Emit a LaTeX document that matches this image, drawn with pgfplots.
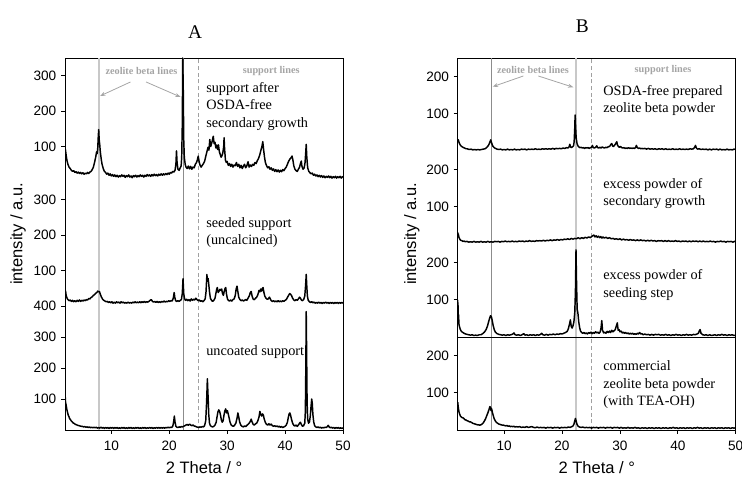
\documentclass[border=0pt]{standalone}
\usepackage{pgfplots}
\pgfplotsset{compat=1.18}
\usepackage{fontspec}
\setmainfont{Liberation Sans}
\newfontfamily\serif{Liberation Serif}
\usetikzlibrary{arrows.meta}
\definecolor{lightline}{RGB}{200,200,200}
\definecolor{darkline}{RGB}{140,140,140}
\definecolor{dashline}{RGB}{160,160,160}
\definecolor{annot}{RGB}{165,165,165}
\pgfplotsset{
 outer/.style={scale only axis, width=208.5pt, height=279pt, xmin=2, xmax=50, ymin=0, ymax=372,
   anchor=south west, clip=false, xtick={10,20,30,40,50}, tick align=outside, tick pos=left,
   major tick length=3pt, tick style={black, line width=0.5pt}, axis line style={black, line width=0.6pt},
   ticklabel style={font=\fontsize{10.2}{12}\selectfont}, /pgf/number format/assume math mode=true,
   xticklabel style={yshift=-1.5pt}},
 inner/.style={scale only axis, width=208.5pt, xmin=2, xmax=50, anchor=south west, hide axis},
}
\tikzset{
 trace/.style={black, line width=1.1pt, line join=round},
 ann/.style={font=\serif\fontsize{10.7}{12}\selectfont, anchor=base west, inner sep=0pt},
 lbl/.style={font=\serif\bfseries\fontsize{7.7}{9}\selectfont, text=annot, inner sep=0pt},
 axlbl/.style={font=\fontsize{12.4}{14}\selectfont},
}
\begin{document}
\begin{tikzpicture}
\path[use as bounding box] (0,0) rectangle (556.5pt,357.75pt);
% ---------------- Panel A ----------------
\begin{axis}[outer, at={(48.75pt,35.25pt)},
  ytick={31,62,93,124,159.43,194.86,230.29,283.43,318.86,354.29},
  yticklabels={100,200,300,400,100,200,300,100,200,300}]
\addplot[lightline, line width=1.5pt] coordinates {(7.8,0)(7.8,372)};
\addplot[darkline, line width=0.7pt] coordinates {(22.4,0)(22.4,372)};
\addplot[dashline, line width=0.6pt, dash pattern=on 3pt off 2pt] coordinates {(25,0)(25,372)};
\node[lbl] at (axis cs:15.2,359) {zeolite beta lines};
\node[lbl] at (axis cs:37.6,359) {support lines};
\draw[annot, line width=0.6pt, -{Stealth[length=4pt,width=3pt]}] (axis cs:13.3,348) -- (axis cs:8.05,334);
\draw[annot, line width=0.6pt, -{Stealth[length=4pt,width=3pt]}] (axis cs:16.0,348) -- (axis cs:21.95,333);
\node[ann] at (axis cs:26.35,337.5) {support after};
\node[ann] at (axis cs:26.35,320) {OSDA-free};
\node[ann] at (axis cs:26.35,302.5) {secondary growth};
\node[ann] at (axis cs:26.35,202.5) {seeded support};
\node[ann] at (axis cs:26.35,185) {(uncalcined)};
\node[ann] at (axis cs:26.35,74.5) {uncoated support};
\node[axlbl] at (axis cs:26,-38) {2 Theta / °};
\node[axlbl, rotate=90] at (axis cs:-6.1,196) {intensity / a.u.};
\node[font=\serif\fontsize{14.5}{16}\selectfont] at (axis cs:24.45,398) {A};
\end{axis}
% A top
\begin{axis}[inner, at={(48.75pt,221.25pt)}, height=93pt, ymin=0, ymax=350]
\addplot[trace] coordinates {(2.0,97)(2.1,88)(2.2,75)(2.35,60)(2.5,50)(2.7,42)(2.9,38)(3.1,33)(3.3,30)(3.5,32)(3.7,27)(3.9,29)(4.1,25)(4.3,28)(4.5,24)(4.7,27)(4.9,23)(5.1,26)(5.3,22)(5.5,25)(5.7,23)(5.9,27)(6.1,24)(6.3,28)(6.5,30)(6.7,35)(6.9,42)(7.1,55)(7.3,70)(7.45,85)(7.55,80)(7.65,95)(7.75,130)(7.82,148)(7.9,120)(8.0,105)(8.1,85)(8.25,65)(8.4,50)(8.6,38)(8.8,30)(9.0,27)(9.2,22)(9.4,25)(9.6,19)(9.8,23)(10.0,17)(10.2,21)(10.4,16)(10.6,20)(10.8,15)(11.0,19)(11.2,14)(11.4,18)(11.6,15)(11.8,20)(12.0,16)(12.2,19)(12.4,13)(12.6,18)(12.8,15)(13.0,20)(13.2,14)(13.4,17)(13.6,12)(13.8,18)(14.0,15)(14.2,19)(14.4,14)(14.6,18)(14.8,15)(15.0,20)(15.2,16)(15.4,19)(15.6,14)(15.8,19)(16.0,16)(16.2,21)(16.4,17)(16.6,20)(16.8,16)(17.0,21)(17.2,17)(17.4,22)(17.6,18)(17.8,21)(18.0,17)(18.2,22)(18.4,19)(18.6,23)(18.8,19)(19.0,23)(19.2,20)(19.4,24)(19.6,21)(19.8,25)(20.0,22)(20.2,27)(20.4,25)(20.6,30)(20.8,28)(21.0,33)(21.15,50)(21.25,88)(21.35,55)(21.5,36)(21.7,33)(21.9,40)(22.05,45)(22.15,70)(22.25,160)(22.33,350)(22.42,260)(22.5,120)(22.6,70)(22.75,50)(22.9,42)(23.1,38)(23.3,45)(23.5,37)(23.7,44)(23.9,36)(24.1,42)(24.3,40)(24.5,50)(24.7,55)(24.85,62)(25.0,73)(25.15,58)(25.3,48)(25.5,42)(25.7,47)(25.9,52)(26.1,58)(26.3,72)(26.5,85)(26.7,98)(26.85,90)(27.0,120)(27.15,100)(27.3,108)(27.45,118)(27.6,129)(27.75,108)(27.9,112)(28.05,96)(28.2,104)(28.35,92)(28.5,105)(28.65,85)(28.8,78)(28.95,70)(29.1,74)(29.25,82)(29.4,100)(29.47,125)(29.55,95)(29.7,62)(29.85,55)(30.0,58)(30.2,47)(30.4,52)(30.6,44)(30.8,50)(31.0,42)(31.2,48)(31.4,46)(31.6,55)(31.8,44)(32.0,50)(32.2,40)(32.4,47)(32.6,38)(32.8,45)(33.0,50)(33.2,40)(33.4,46)(33.6,57)(33.8,42)(34.0,48)(34.2,44)(34.4,50)(34.6,47)(34.8,55)(35.0,52)(35.2,60)(35.4,66)(35.6,75)(35.8,88)(36.0,100)(36.15,114)(36.3,90)(36.45,70)(36.6,55)(36.8,46)(37.0,40)(37.2,43)(37.4,36)(37.6,40)(37.8,33)(38.0,37)(38.2,30)(38.4,35)(38.6,29)(38.8,34)(39.0,28)(39.2,33)(39.4,29)(39.6,35)(39.8,32)(40.0,38)(40.2,42)(40.4,50)(40.6,58)(40.8,64)(41.0,68)(41.2,73)(41.35,62)(41.5,46)(41.7,36)(41.9,32)(42.1,30)(42.3,36)(42.5,42)(42.65,52)(42.8,59)(42.9,45)(43.1,36)(43.3,40)(43.45,55)(43.55,80)(43.65,106)(43.75,70)(43.9,40)(44.1,30)(44.3,26)(44.5,23)(44.7,25)(44.9,19)(45.1,22)(45.3,17)(45.5,20)(45.7,15)(45.9,19)(46.1,14)(46.3,18)(46.5,13)(46.7,17)(46.9,12)(47.1,16)(47.3,13)(47.5,17)(47.7,12)(47.9,16)(48.1,11)(48.3,15)(48.5,12)(48.7,16)(48.9,11)(49.1,15)(49.3,12)(49.5,16)(49.7,11)(49.9,15)(50.0,13)};
\end{axis}
% A middle
\begin{axis}[inner, at={(48.75pt,128.25pt)}, height=93pt, ymin=0, ymax=350]
\addplot[trace] coordinates {(2.0,46)(2.05,38)(2.1,42)(2.2,30)(2.35,22)(2.5,18)(2.7,15)(2.9,17)(3.1,13)(3.3,16)(3.5,12)(3.7,15)(3.9,12)(4.1,16)(4.3,13)(4.5,17)(4.7,13)(4.9,16)(5.1,14)(5.3,17)(5.5,15)(5.7,18)(5.9,17)(6.1,21)(6.3,20)(6.5,24)(6.7,26)(6.9,30)(7.1,32)(7.3,36)(7.5,38)(7.65,42)(7.8,40)(7.95,41)(8.1,33)(8.3,25)(8.5,19)(8.7,16)(8.9,14)(9.1,12)(9.3,13)(9.5,10)(9.7,12)(9.9,9)(10.1,12)(10.3,8)(10.5,11)(10.7,8)(10.9,12)(11.1,9)(11.3,11)(11.5,8)(11.7,12)(11.9,9)(12.1,11)(12.3,8)(12.5,10)(12.7,8)(12.9,11)(13.1,8)(13.3,10)(13.5,8)(13.7,11)(13.9,9)(14.1,12)(14.3,9)(14.5,11)(14.7,9)(14.9,12)(15.1,9)(15.3,12)(15.5,10)(15.7,13)(15.9,10)(16.1,12)(16.3,11)(16.5,13)(16.7,16)(16.9,18)(17.1,13)(17.3,11)(17.5,13)(17.7,10)(17.9,13)(18.1,10)(18.3,12)(18.5,10)(18.7,13)(18.9,11)(19.1,14)(19.3,11)(19.5,13)(19.7,12)(19.9,15)(20.1,13)(20.3,15)(20.5,14)(20.7,22)(20.85,38)(20.95,25)(21.1,15)(21.3,13)(21.5,15)(21.7,13)(21.9,16)(22.1,18)(22.25,35)(22.38,77)(22.5,35)(22.65,20)(22.8,16)(23.0,19)(23.2,15)(23.4,18)(23.6,14)(23.8,20)(24.0,16)(24.2,19)(24.4,17)(24.6,22)(24.8,18)(25.0,15)(25.2,17)(25.4,13)(25.6,15)(25.8,12)(26.0,15)(26.2,20)(26.35,40)(26.5,89)(26.6,70)(26.7,78)(26.8,65)(26.95,40)(27.1,22)(27.3,16)(27.5,13)(27.7,16)(27.9,22)(28.05,35)(28.2,48)(28.3,52)(28.45,38)(28.6,42)(28.75,47)(28.9,44)(29.05,48)(29.2,35)(29.35,30)(29.5,42)(29.65,50)(29.75,52)(29.9,32)(30.05,20)(30.2,16)(30.4,14)(30.6,17)(30.8,14)(31.0,18)(31.2,20)(31.4,30)(31.55,48)(31.7,56)(31.85,40)(32.0,25)(32.2,18)(32.4,15)(32.6,17)(32.8,14)(33.0,16)(33.2,18)(33.4,16)(33.6,22)(33.8,28)(34.0,38)(34.15,41)(34.3,28)(34.5,19)(34.7,18)(34.9,22)(35.1,25)(35.3,32)(35.5,44)(35.65,40)(35.8,48)(35.95,42)(36.1,50)(36.2,52)(36.35,38)(36.5,28)(36.7,22)(36.9,19)(37.1,20)(37.3,25)(37.45,20)(37.6,15)(37.8,13)(38.0,15)(38.2,12)(38.4,14)(38.6,12)(38.8,15)(39.0,12)(39.2,14)(39.4,12)(39.6,15)(39.8,13)(40.0,16)(40.2,18)(40.4,24)(40.6,30)(40.8,35)(40.95,33)(41.1,30)(41.3,22)(41.5,17)(41.7,15)(41.9,18)(42.1,16)(42.3,20)(42.5,25)(42.65,22)(42.8,17)(43.0,15)(43.2,18)(43.4,28)(43.55,60)(43.65,89)(43.75,55)(43.85,28)(44.0,16)(44.2,12)(44.4,10)(44.6,12)(44.8,9)(45.0,11)(45.2,8)(45.4,10)(45.6,8)(45.8,11)(46.0,8)(46.2,10)(46.4,7)(46.6,10)(46.8,8)(47.0,11)(47.2,8)(47.4,10)(47.6,7)(47.8,10)(48.0,8)(48.2,10)(48.4,7)(48.6,10)(48.8,8)(49.0,10)(49.2,7)(49.4,10)(49.6,8)(49.8,10)(50.0,8)};
\end{axis}
% A bottom
\begin{axis}[inner, at={(48.75pt,35.25pt)}, height=93pt, ymin=0, ymax=400]
\addplot[trace] coordinates {(2.0,97)(2.05,105)(2.1,88)(2.2,80)(2.3,68)(2.4,60)(2.5,52)(2.6,46)(2.7,42)(2.8,37)(2.95,33)(3.1,29)(3.25,26)(3.4,23)(3.6,21)(3.8,18)(4.0,17)(4.2,15)(4.4,14)(4.6,13)(4.8,12)(5.0,12)(5.2,10)(5.4,11)(5.6,9)(5.8,10)(6.0,8)(6.2,10)(6.4,7)(6.6,9)(6.8,7)(7.0,9)(7.2,7)(7.4,9)(7.6,6)(7.8,8)(8.0,6)(8.2,9)(8.4,6)(8.6,8)(8.8,5)(9.0,8)(9.2,6)(9.4,8)(9.6,5)(9.8,8)(10.0,6)(10.2,8)(10.4,5)(10.6,8)(10.8,6)(11.0,8)(11.2,5)(11.4,7)(11.6,5)(11.8,8)(12.0,6)(12.2,8)(12.4,5)(12.6,7)(12.8,5)(13.0,8)(13.2,6)(13.4,8)(13.6,5)(13.8,7)(14.0,5)(14.2,8)(14.4,6)(14.6,8)(14.8,5)(15.0,7)(15.2,5)(15.4,8)(15.6,6)(15.8,8)(16.0,5)(16.2,7)(16.4,6)(16.6,8)(16.8,6)(17.0,8)(17.2,5)(17.4,7)(17.6,6)(17.8,8)(18.0,6)(18.2,8)(18.4,6)(18.6,8)(18.8,6)(19.0,8)(19.2,6)(19.4,8)(19.6,7)(19.8,9)(20.0,7)(20.2,9)(20.4,8)(20.6,12)(20.75,25)(20.88,45)(21.0,25)(21.15,12)(21.3,9)(21.5,8)(21.7,10)(21.9,9)(22.1,11)(22.3,10)(22.5,12)(22.7,14)(22.9,16)(23.1,18)(23.3,15)(23.5,19)(23.7,16)(23.9,14)(24.1,16)(24.3,13)(24.5,12)(24.7,10)(24.9,9)(25.1,8)(25.3,10)(25.5,9)(25.7,11)(25.9,10)(26.1,14)(26.3,30)(26.45,90)(26.58,165)(26.7,110)(26.82,50)(26.95,22)(27.1,14)(27.3,11)(27.5,10)(27.7,12)(27.9,16)(28.1,25)(28.25,42)(28.4,58)(28.55,65)(28.7,60)(28.85,48)(29.0,32)(29.15,25)(29.3,30)(29.45,48)(29.6,62)(29.75,68)(29.9,55)(30.05,62)(30.2,50)(30.35,38)(30.5,25)(30.7,16)(30.9,13)(31.1,12)(31.3,16)(31.5,22)(31.7,38)(31.85,55)(32.0,42)(32.15,26)(32.35,16)(32.55,12)(32.8,10)(33.0,13)(33.2,11)(33.4,15)(33.6,18)(33.8,22)(34.0,28)(34.15,35)(34.3,26)(34.5,18)(34.7,16)(34.9,20)(35.1,22)(35.3,30)(35.5,42)(35.65,60)(35.8,50)(35.95,45)(36.1,52)(36.25,48)(36.4,35)(36.6,24)(36.8,18)(37.0,16)(37.2,20)(37.4,16)(37.6,19)(37.8,14)(38.0,12)(38.2,14)(38.4,11)(38.6,13)(38.8,10)(39.0,12)(39.2,9)(39.4,11)(39.6,8)(39.8,10)(40.0,12)(40.2,16)(40.4,25)(40.55,40)(40.7,52)(40.82,55)(40.95,48)(41.1,35)(41.3,22)(41.5,15)(41.7,13)(41.9,16)(42.1,12)(42.3,16)(42.5,22)(42.65,25)(42.8,18)(43.0,12)(43.2,14)(43.4,22)(43.5,60)(43.58,200)(43.65,382)(43.72,250)(43.8,90)(43.9,35)(44.05,22)(44.2,25)(44.35,45)(44.5,80)(44.6,100)(44.7,85)(44.8,50)(44.95,25)(45.1,14)(45.3,10)(45.5,8)(45.7,10)(45.9,7)(46.1,9)(46.3,6)(46.5,8)(46.7,7)(46.9,9)(47.1,8)(47.3,11)(47.45,15)(47.6,10)(47.8,7)(48.0,9)(48.2,6)(48.4,8)(48.6,5)(48.8,8)(49.0,6)(49.2,8)(49.4,5)(49.6,7)(49.8,5)(50.0,7)};
\end{axis}
% ---------------- Panel B ----------------
\begin{axis}[outer, at={(343.3pt,35.25pt)},
  ytick={37.2,74.4,130.2,167.4,223.2,260.4,316.2,353.4},
  yticklabels={100,200,100,200,100,200,100,200}]
\addplot[darkline, line width=0.7pt] coordinates {(7.8,0)(7.8,372)};
\addplot[lightline, line width=1.5pt] coordinates {(22.4,0)(22.4,372)};
\addplot[dashline, line width=0.6pt, dash pattern=on 3pt off 2pt] coordinates {(25,0)(25,372)};
\draw[black, line width=0.6pt] (axis cs:2,93) -- (axis cs:50,93);
\node[lbl] at (axis cs:15.0,360) {zeolite beta lines};
\node[lbl] at (axis cs:37.46,360) {support lines};
\draw[annot, line width=0.6pt, -{Stealth[length=4pt,width=3pt]}] (axis cs:13.33,354) -- (axis cs:8.04,343.3);
\draw[annot, line width=0.6pt, -{Stealth[length=4pt,width=3pt]}] (axis cs:15.92,354) -- (axis cs:21.96,342.7);
\node[ann] at (axis cs:27.1,334) {OSDA-free prepared};
\node[ann] at (axis cs:27.1,317.5) {zeolite beta powder};
\node[ann] at (axis cs:27.1,241) {excess powder of};
\node[ann] at (axis cs:27.1,224) {secondary growth};
\node[ann] at (axis cs:27.1,150) {excess powder of};
\node[ann] at (axis cs:27.1,132.5) {seeding step};
\node[ann] at (axis cs:27.1,59) {commercial};
\node[ann] at (axis cs:27.1,41.5) {zeolite beta powder};
\node[ann] at (axis cs:27.1,24) {(with TEA-OH)};
\node[axlbl] at (axis cs:26,-38) {2 Theta / °};
\node[axlbl, rotate=90] at (axis cs:-5.94,196) {intensity / a.u.};
\node[font=\serif\fontsize{14.5}{16}\selectfont] at (axis cs:23.5,404) {B};
\end{axis}
% B top
\begin{axis}[inner, at={(343.3pt,244.5pt)}, height=69.75pt, ymin=0, ymax=250]
\addplot[trace] coordinates {(2.0,32)(2.05,26)(2.1,30)(2.2,24)(2.3,20)(2.45,16)(2.6,13)(2.8,11)(3.0,9)(3.2,8)(3.4,6)(3.6,6)(3.8,5)(4.0,4)(4.3,5)(4.6,3)(4.9,4)(5.2,3)(5.5,4)(5.8,3)(6.1,4)(6.4,5)(6.7,6)(6.9,8)(7.1,11)(7.3,15)(7.45,20)(7.6,26)(7.7,30)(7.8,24)(7.95,17)(8.1,12)(8.3,9)(8.5,7)(8.8,5)(9.1,4)(9.4,5)(9.7,3)(10.0,4)(10.3,3)(10.6,5)(10.9,3)(11.2,4)(11.5,3)(11.8,5)(12.1,3)(12.4,4)(12.7,3)(13.0,5)(13.3,4)(13.6,5)(13.9,3)(14.2,5)(14.5,4)(14.8,5)(15.1,4)(15.4,6)(15.7,4)(16.0,5)(16.3,4)(16.6,6)(16.9,5)(17.2,6)(17.5,5)(17.8,6)(18.1,5)(18.4,7)(18.7,5)(19.0,7)(19.3,6)(19.6,7)(19.9,6)(20.2,8)(20.5,7)(20.8,9)(21.0,8)(21.2,10)(21.35,18)(21.45,12)(21.6,9)(21.8,11)(22.0,14)(22.1,25)(22.2,60)(22.27,97)(22.35,65)(22.45,35)(22.6,20)(22.75,14)(22.9,11)(23.1,9)(23.3,10)(23.5,8)(23.7,9)(23.9,7)(24.1,9)(24.3,8)(24.5,9)(24.7,7)(24.9,9)(25.1,10)(25.25,15)(25.4,9)(25.6,8)(25.8,10)(26.0,14)(26.15,9)(26.35,8)(26.55,10)(26.75,8)(26.95,11)(27.15,9)(27.35,8)(27.55,10)(27.75,9)(27.95,11)(28.15,12)(28.3,14)(28.45,18)(28.6,20)(28.75,13)(28.9,12)(29.05,15)(29.2,18)(29.35,22)(29.46,25)(29.6,15)(29.75,12)(29.9,10)(30.1,12)(30.3,9)(30.5,8)(30.7,9)(30.9,7)(31.1,8)(31.3,7)(31.5,9)(31.7,7)(31.9,8)(32.1,7)(32.3,8)(32.5,7)(32.7,9)(32.85,15)(33.0,9)(33.2,7)(33.4,8)(33.6,6)(33.8,7)(34.0,6)(34.3,7)(34.6,5)(34.9,7)(35.2,5)(35.5,6)(35.8,5)(36.1,6)(36.4,4)(36.7,6)(37.0,5)(37.3,6)(37.6,4)(37.9,6)(38.2,4)(38.5,5)(38.8,4)(39.1,6)(39.4,4)(39.7,5)(40.0,4)(40.3,6)(40.6,4)(40.9,5)(41.2,4)(41.5,5)(41.8,4)(42.1,6)(42.4,5)(42.7,6)(42.9,10)(43.05,15)(43.2,8)(43.4,5)(43.7,6)(44.0,4)(44.3,5)(44.6,4)(44.9,5)(45.2,3)(45.5,5)(45.8,3)(46.1,5)(46.4,4)(46.7,5)(47.0,3)(47.3,5)(47.6,3)(47.9,4)(48.2,3)(48.5,5)(48.8,3)(49.1,4)(49.4,3)(49.7,5)(50.0,4)};
\end{axis}
% B second
\begin{axis}[inner, at={(343.3pt,174.75pt)}, height=69.75pt, ymin=0, ymax=250]
\addplot[trace] coordinates {(2.0,31)(2.05,24)(2.1,27)(2.2,18)(2.35,13)(2.5,10)(2.7,9)(2.9,7)(3.1,8)(3.3,6)(3.6,7)(3.9,5)(4.2,6)(4.5,5)(4.8,7)(5.1,5)(5.4,6)(5.7,5)(6.0,7)(6.3,5)(6.6,6)(6.9,5)(7.2,7)(7.5,5)(7.8,6)(8.1,5)(8.4,7)(8.7,6)(9.0,7)(9.3,5)(9.6,7)(9.9,6)(10.2,8)(10.5,6)(10.8,7)(11.1,6)(11.4,8)(11.7,6)(12.0,7)(12.3,6)(12.6,8)(12.9,7)(13.2,8)(13.5,6)(13.8,8)(14.1,7)(14.4,9)(14.7,7)(15.0,8)(15.3,7)(15.6,9)(15.9,8)(16.2,9)(16.5,8)(16.8,10)(17.1,8)(17.4,10)(17.7,9)(18.0,11)(18.3,9)(18.6,11)(18.9,10)(19.2,12)(19.5,10)(19.8,12)(20.1,11)(20.4,13)(20.7,12)(21.0,14)(21.3,12)(21.6,15)(21.9,13)(22.2,15)(22.5,14)(22.8,17)(23.1,14)(23.4,17)(23.7,15)(24.0,18)(24.3,16)(24.6,19)(24.9,17)(25.2,21)(25.5,24)(25.7,19)(25.9,22)(26.1,18)(26.3,21)(26.5,17)(26.7,20)(26.9,16)(27.1,19)(27.3,16)(27.6,18)(27.9,15)(28.2,17)(28.5,14)(28.8,15)(29.1,13)(29.4,14)(29.7,12)(30.0,14)(30.3,11)(30.6,13)(30.9,11)(31.2,12)(31.5,10)(31.8,12)(32.1,10)(32.4,11)(32.7,9)(33.0,11)(33.3,9)(33.6,11)(33.9,9)(34.2,10)(34.5,8)(34.8,10)(35.1,8)(35.4,10)(35.7,8)(36.0,9)(36.3,7)(36.6,9)(36.9,8)(37.2,9)(37.5,7)(37.8,9)(38.1,7)(38.4,9)(38.7,7)(39.0,8)(39.3,7)(39.6,9)(39.9,7)(40.2,8)(40.5,6)(40.8,8)(41.1,7)(41.4,8)(41.7,6)(42.0,8)(42.3,6)(42.6,8)(42.9,7)(43.2,8)(43.5,6)(43.8,8)(44.1,6)(44.4,8)(44.7,6)(45.0,7)(45.3,6)(45.6,8)(45.9,6)(46.2,7)(46.5,5)(46.8,7)(47.1,6)(47.4,8)(47.7,6)(48.0,7)(48.3,5)(48.6,7)(48.9,6)(49.2,7)(49.5,5)(49.8,7)(50.0,6)};
\end{axis}
% B third
\begin{axis}[inner, at={(343.3pt,105pt)}, height=69.75pt, ymin=0, ymax=250]
\addplot[trace] coordinates {(2.0,100)(2.03,55)(2.06,85)(2.1,45)(2.15,60)(2.2,35)(2.3,28)(2.45,20)(2.6,16)(2.8,13)(3.0,11)(3.2,9)(3.4,8)(3.6,7)(3.9,6)(4.2,5)(4.5,6)(4.8,4)(5.1,5)(5.4,4)(5.7,6)(6.0,6)(6.3,9)(6.6,13)(6.9,20)(7.15,30)(7.35,42)(7.5,50)(7.65,57)(7.8,55)(7.95,45)(8.1,32)(8.3,20)(8.5,13)(8.8,9)(9.1,7)(9.4,6)(9.7,5)(10.0,6)(10.3,4)(10.6,6)(10.9,5)(11.2,6)(11.5,8)(11.7,11)(11.9,6)(12.2,5)(12.5,6)(12.8,4)(13.1,6)(13.4,9)(13.6,5)(13.9,6)(14.2,4)(14.5,6)(14.8,5)(15.1,6)(15.4,4)(15.7,6)(16.0,5)(16.3,7)(16.5,10)(16.7,6)(17.0,5)(17.3,7)(17.6,5)(17.9,7)(18.2,6)(18.5,8)(18.8,6)(19.1,8)(19.4,7)(19.7,9)(20.0,8)(20.3,10)(20.6,12)(20.9,15)(21.1,22)(21.3,35)(21.45,46)(21.6,28)(21.75,24)(21.9,30)(22.05,40)(22.2,64)(22.32,120)(22.42,234)(22.52,140)(22.62,75)(22.75,64)(22.9,40)(23.05,25)(23.2,16)(23.4,12)(23.6,10)(23.8,12)(24.0,9)(24.2,11)(24.4,8)(24.6,12)(24.8,10)(25.0,13)(25.2,9)(25.4,12)(25.6,10)(25.8,14)(26.0,11)(26.2,13)(26.4,10)(26.6,14)(26.75,25)(26.87,44)(27.0,18)(27.2,11)(27.4,13)(27.6,10)(27.8,15)(28.0,12)(28.2,16)(28.4,12)(28.6,18)(28.8,14)(29.0,17)(29.2,20)(29.35,28)(29.55,38)(29.7,18)(29.85,20)(30.0,14)(30.2,16)(30.4,11)(30.6,13)(30.8,10)(31.0,12)(31.2,9)(31.4,11)(31.6,8)(31.8,10)(32.0,8)(32.2,10)(32.4,7)(32.6,9)(32.8,7)(33.0,10)(33.2,8)(33.4,12)(33.6,8)(33.8,9)(34.0,6)(34.3,8)(34.6,6)(34.9,7)(35.2,5)(35.5,7)(35.8,5)(36.1,7)(36.4,6)(36.7,7)(37.0,5)(37.3,6)(37.6,5)(37.9,7)(38.2,5)(38.5,6)(38.8,4)(39.1,6)(39.4,5)(39.7,7)(40.0,5)(40.3,6)(40.6,4)(40.9,6)(41.2,5)(41.5,7)(41.8,5)(42.1,6)(42.4,5)(42.7,7)(43.0,6)(43.3,8)(43.55,10)(43.7,16)(43.85,20)(44.0,10)(44.3,6)(44.6,5)(44.9,6)(45.2,4)(45.5,6)(45.8,4)(46.1,5)(46.4,6)(46.7,4)(47.0,6)(47.3,5)(47.6,7)(47.9,5)(48.2,6)(48.5,4)(48.8,6)(49.1,5)(49.4,6)(49.7,4)(50.0,5)};
\end{axis}
% B bottom
\begin{axis}[inner, at={(343.3pt,35.25pt)}, height=69.75pt, ymin=0, ymax=250]
\addplot[trace] coordinates {(2.0,75)(2.05,67)(2.1,60)(2.2,50)(2.3,44)(2.45,38)(2.6,35)(2.8,33)(3.0,32)(3.2,28)(3.4,27)(3.6,25)(3.8,24)(4.0,22)(4.2,22)(4.4,20)(4.6,18)(4.8,17)(5.0,16)(5.2,15)(5.4,14)(5.6,14)(5.8,13)(6.0,14)(6.2,16)(6.4,19)(6.6,24)(6.8,30)(7.0,38)(7.2,46)(7.4,55)(7.55,63)(7.68,60)(7.75,52)(7.82,58)(7.9,54)(8.0,46)(8.15,38)(8.3,30)(8.5,24)(8.7,20)(8.9,18)(9.1,16)(9.3,15)(9.5,14)(9.7,13)(9.9,13)(10.1,12)(10.3,11)(10.5,12)(10.7,10)(10.9,11)(11.1,9)(11.3,10)(11.5,9)(11.7,10)(11.9,8)(12.1,9)(12.4,8)(12.7,9)(13.0,7)(13.3,8)(13.6,7)(13.9,9)(14.2,7)(14.5,8)(14.8,9)(15.1,7)(15.4,6)(15.7,8)(16.0,6)(16.3,7)(16.6,6)(16.9,7)(17.2,5)(17.5,7)(17.8,6)(18.1,7)(18.4,5)(18.7,7)(19.0,6)(19.3,7)(19.6,5)(19.9,7)(20.2,6)(20.5,7)(20.8,6)(21.1,8)(21.4,7)(21.7,9)(21.9,11)(22.05,15)(22.2,24)(22.32,31)(22.45,24)(22.6,15)(22.8,10)(23.0,8)(23.3,7)(23.6,8)(23.9,6)(24.2,7)(24.5,6)(24.8,7)(25.1,5)(25.4,7)(25.7,6)(26.0,7)(26.3,5)(26.6,7)(26.9,6)(27.2,7)(27.5,5)(27.8,7)(28.1,6)(28.4,7)(28.7,5)(29.0,7)(29.3,6)(29.6,7)(29.9,5)(30.2,7)(30.5,5)(30.8,6)(31.1,5)(31.4,7)(31.7,5)(32.0,6)(32.3,5)(32.6,7)(32.9,5)(33.2,6)(33.5,4)(33.8,6)(34.1,5)(34.4,6)(34.7,4)(35.0,6)(35.3,5)(35.6,6)(35.9,4)(36.2,6)(36.5,5)(36.8,6)(37.1,4)(37.4,6)(37.7,5)(38.0,6)(38.3,4)(38.6,6)(38.9,5)(39.2,7)(39.5,5)(39.8,6)(40.1,4)(40.4,6)(40.7,5)(41.0,6)(41.3,4)(41.6,6)(41.9,5)(42.2,6)(42.5,4)(42.8,6)(43.1,5)(43.4,7)(43.7,5)(44.0,6)(44.3,4)(44.6,6)(44.9,5)(45.2,6)(45.5,4)(45.8,6)(46.1,5)(46.4,6)(46.7,4)(47.0,6)(47.3,5)(47.6,6)(47.9,4)(48.2,6)(48.5,5)(48.8,6)(49.1,4)(49.4,6)(49.7,5)(50.0,6)};
\end{axis}
\end{tikzpicture}
\end{document}
